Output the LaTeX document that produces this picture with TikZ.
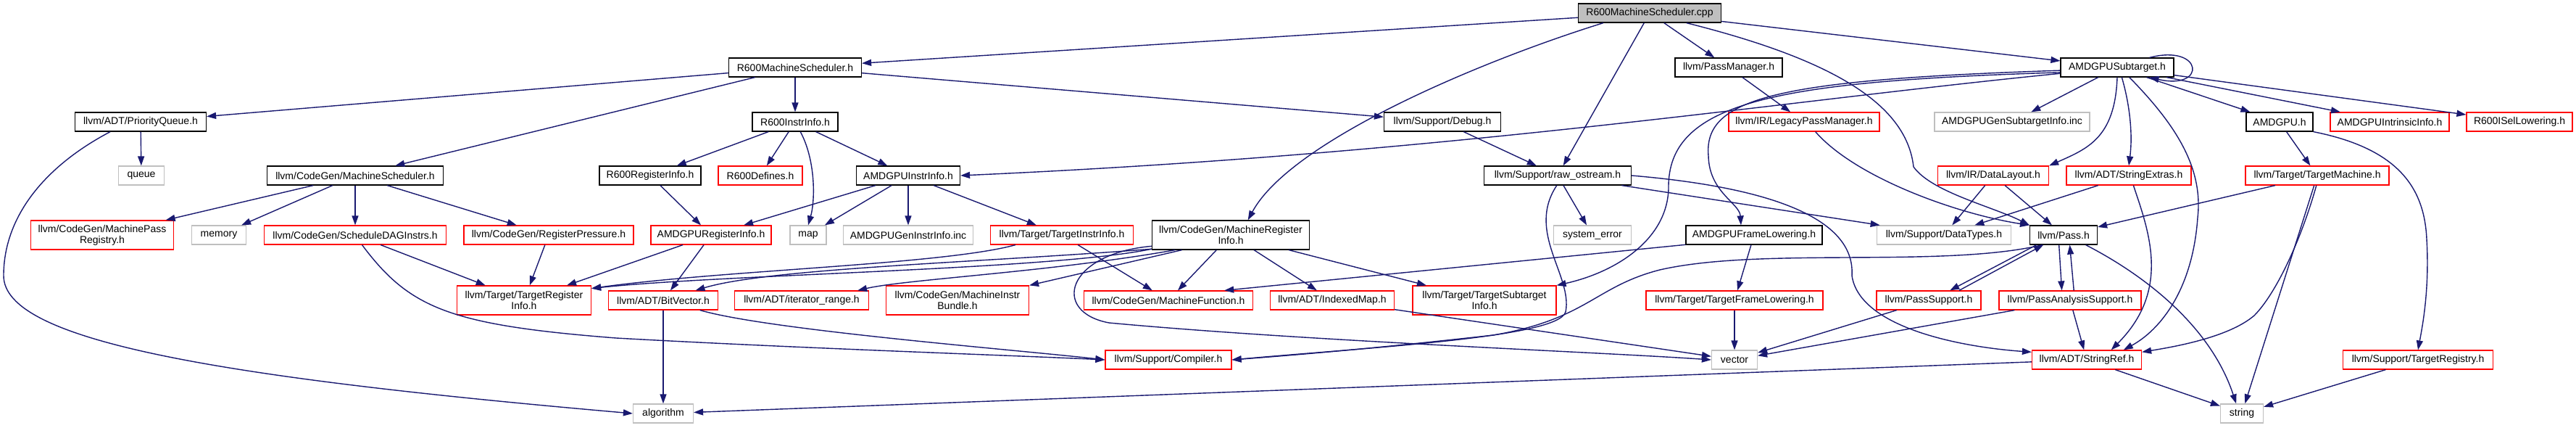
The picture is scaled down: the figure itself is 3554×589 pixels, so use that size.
\documentclass[tikz,border=0pt]{standalone}
\usepackage{fontspec}
\setmainfont{Liberation Sans}
\usepackage{xcolor}
\usepackage{tikz}
\usetikzlibrary{arrows.meta}
\definecolor{edgeblue}{HTML}{191970}
\definecolor{extgray}{HTML}{BFBFBF}
\definecolor{truncred}{HTML}{FF0000}
\tikzset{
  file/.style={draw, fill=white, line width=1.2pt, minimum height=26pt,
               inner xsep=4pt, inner ysep=2pt, align=center,
               font=\fontsize{14}{15}\selectfont},
  docfile/.style={file, draw=black},
  truncfile/.style={file, draw=truncred},
  extfile/.style={file, draw=extgray},
  dep/.style={draw=edgeblue, line width=1.4pt, -{Triangle[length=13pt,width=9pt]}}
}

\begin{document}
\begin{tikzpicture}[x=1pt, y=-1pt]
    \useasboundingbox (0,0) rectangle (3554,589);

    \node[docfile, fill=extgray, minimum width=197pt] (cpp) at (2276,18) {R600MachineScheduler.cpp};

    \node[docfile, minimum width=183pt] (r6ms) at (1097,93) {R600MachineScheduler.h};
    \node[docfile, minimum width=148pt] (passmgr) at (2385,93) {llvm/PassManager.h};
    \node[docfile, minimum width=156pt] (subtarget) at (2921,93) {AMDGPUSubtarget.h};

    \node[docfile, minimum width=181pt] (pq) at (194,168) {llvm/ADT/PriorityQueue.h};
    \node[docfile, minimum width=118pt] (r6ii) at (1097,168) {R600InstrInfo.h};
    \node[docfile, minimum width=161pt] (debug) at (1990,168) {llvm/Support/Debug.h};
    \node[truncfile, minimum width=208pt] (legacy) at (2489,168) {llvm/IR/LegacyPassManager.h};
    \node[extfile, minimum width=214pt] (gensub) at (2776,168) {AMDGPUGenSubtargetInfo.inc};
    \node[docfile, minimum width=92pt] (amdgpu) at (3145,168) {AMDGPU.h};
    \node[truncfile, minimum width=164pt] (intrin) at (3297,168) {AMDGPUIntrinsicInfo.h};
    \node[truncfile, minimum width=146pt] (isel) at (3476,168) {R600ISelLowering.h};

    \node[extfile, minimum width=63pt] (queue) at (195,242) {queue};
    \node[docfile, minimum width=243pt] (msched) at (490,242) {llvm/CodeGen/MachineScheduler.h};
    \node[docfile, minimum width=140pt] (r6ri) at (897,242) {R600RegisterInfo.h};
    \node[truncfile, minimum width=116pt] (r6def) at (1049,242) {R600Defines.h};
    \node[docfile, minimum width=143pt] (agii) at (1253,242) {AMDGPUInstrInfo.h};
    \node[docfile, minimum width=203pt] (rawos) at (2149,242) {llvm/Support/raw\_ostream.h};
    \node[truncfile, minimum width=153pt] (datalayout) at (2750,242) {llvm/IR/DataLayout.h};
    \node[truncfile, minimum width=172pt] (strext) at (2937,242) {llvm/ADT/StringExtras.h};
    \node[truncfile, minimum width=198pt] (tmachine) at (3197,242) {llvm/Target/TargetMachine.h};

    \node[truncfile, minimum width=197pt, minimum height=40pt] (mpreg) at (141,324) {llvm/CodeGen/MachinePass\\Registry.h};
    \node[extfile, minimum width=75pt] (memory) at (302,324) {memory};
    \node[truncfile, minimum width=251pt] (sdag) at (490,324) {llvm/CodeGen/ScheduleDAGInstrs.h};
    \node[truncfile, minimum width=234pt] (regpress) at (757,324) {llvm/CodeGen/RegisterPressure.h};
    \node[truncfile, minimum width=166pt] (agri) at (981,324) {AMDGPURegisterInfo.h};
    \node[extfile, minimum width=50pt] (map) at (1115,324) {map};
    \node[extfile, minimum width=179pt] (genii) at (1253,324) {AMDGPUGenInstrInfo.inc};
    \node[truncfile, minimum width=197pt] (tii) at (1465,324) {llvm/Target/TargetInstrInfo.h};
    \node[docfile, minimum width=217pt, minimum height=40pt] (mri) at (1698,324) {llvm/CodeGen/MachineRegister\\Info.h};
    \node[extfile, minimum width=107pt] (syserr) at (2197,324) {system\_error};
    \node[docfile, minimum width=188pt] (framelow) at (2420,324) {AMDGPUFrameLowering.h};
    \node[extfile, minimum width=185pt] (datatypes) at (2682,324) {llvm/Support/DataTypes.h};
    \node[docfile, minimum width=93pt] (pass) at (2847,324) {llvm/Pass.h};

    \node[truncfile, minimum width=185pt, minimum height=40pt] (tri) at (723,414) {llvm/Target/TargetRegister\\Info.h};
    \node[truncfile, minimum width=151pt] (bitvec) at (915,414) {llvm/ADT/BitVector.h};
    \node[truncfile, minimum width=185pt] (iterrange) at (1106,414) {llvm/ADT/iterator\_range.h};
    \node[truncfile, minimum width=197pt, minimum height=40pt] (bundle) at (1321,414) {llvm/CodeGen/MachineInstr\\Bundle.h};
    \node[truncfile, minimum width=233pt] (mfunc) at (1612,414) {llvm/CodeGen/MachineFunction.h};
    \node[truncfile, minimum width=171pt] (indexmap) at (1838,414) {llvm/ADT/IndexedMap.h};
    \node[truncfile, minimum width=198pt, minimum height=40pt] (tsi) at (2048,414) {llvm/Target/TargetSubtarget\\Info.h};
    \node[truncfile, minimum width=244pt] (tfl) at (2393,414) {llvm/Target/TargetFrameLowering.h};
    \node[truncfile, minimum width=144pt] (passsup) at (2661,414) {llvm/PassSupport.h};
    \node[truncfile, minimum width=196pt] (pas) at (2856,414) {llvm/PassAnalysisSupport.h};

    \node[truncfile, minimum width=174pt] (compiler) at (1612,496) {llvm/Support/Compiler.h};
    \node[extfile, minimum width=63pt] (vector) at (2393,496) {vector};
    \node[truncfile, minimum width=151pt] (stringref) at (2879,496) {llvm/ADT/StringRef.h};
    \node[truncfile, minimum width=207pt] (treg) at (3336,496) {llvm/Support/TargetRegistry.h};

    \node[extfile, minimum width=83pt] (algorithm) at (915,570) {algorithm};
    \node[extfile, minimum width=59pt] (string) at (3093,570) {string};

    \draw[dep] (cpp) -- (r6ms);
    \draw[dep] (cpp) -- (rawos);
    \draw[dep] (cpp) -- (passmgr);
    \draw[dep] (cpp) -- (subtarget);
    \draw[dep] (cpp.192) .. controls (2040,85) and (1780,195) .. (mri.41);
    \draw[dep] (cpp.345) .. controls (2520,80) and (2630,140) .. (2640,230)
        .. controls (2665,265) and (2750,285) .. (pass.north west);

    \draw[dep] (r6ms) -- (pq);
    \draw[dep] (r6ms) -- (msched);
    \draw[dep] (r6ms) -- (r6ii);
    \draw[dep] (r6ms) -- (debug);

    \draw[dep] (pq) -- (queue);
    \draw[dep] (pq.198) .. controls (60,230) and (5,300) .. (5,380)
        .. controls (5,470) and (300,520) .. (algorithm.west);

    \draw[dep] (msched) -- (mpreg);
    \draw[dep] (msched) -- (memory);
    \draw[dep] (msched) -- (sdag);
    \draw[dep] (msched) -- (regpress);

    \draw[dep] (sdag) -- (tri);
    \draw[dep] (sdag.305) .. controls (565,425) and (620,448) .. (850,466)
        .. controls (1100,480) and (1400,490) .. (compiler.west);
    \draw[dep] (regpress) -- (tri);

    \draw[dep] (r6ii) -- (r6ri);
    \draw[dep] (r6ii) -- (r6def);
    \draw[dep] (r6ii.298) .. controls (1125,220) and (1125,275) .. (map.north);
    \draw[dep] (r6ii) -- (agii);
    \draw[dep] (r6ri) -- (agri);

    \draw[dep] (agii) -- (agri);
    \draw[dep] (agii) -- (map);
    \draw[dep] (agii) -- (genii);
    \draw[dep] (agii) -- (tii);

    \draw[dep] (agri) -- (tri);
    \draw[dep] (agri) -- (bitvec);
    \draw[dep] (tii.192) .. controls (1300,365) and (1000,372) .. (tri.10);
    \draw[dep] (tii) -- (mfunc);

    \draw[dep] (mri.190) .. controls (1450,372) and (1000,378) .. (tri.10);
    \draw[dep] (mri.190) .. controls (1350,362) and (1060,370) .. (bitvec.17);
    \draw[dep] (mri.195) .. controls (1450,375) and (1250,385) .. (iterrange.10);
    \draw[dep] (mri.197) -- (bundle.north east);
    \draw[dep] (mri) -- (mfunc);
    \draw[dep] (mri) -- (indexmap);
    \draw[dep] (mri) -- (tsi);
    \draw[dep] (mri.188) .. controls (1470,350) and (1450,430) .. (1530,445)
        .. controls (1800,470) and (2200,485) .. (vector.west);

    \draw[dep] (bitvec) -- (algorithm);
    \draw[dep] (bitvec.345) .. controls (1060,455) and (1400,482) .. (compiler.west);
    \draw[dep] (indexmap) -- (vector);
    \draw[dep] (tfl) -- (vector);

    \draw[dep] (framelow) -- (tfl);
    \draw[dep] (framelow.188) -- (mfunc.10);

    \draw[dep] (debug) -- (rawos);
    \draw[dep] (rawos) -- (syserr);
    \draw[dep] (rawos) -- (datatypes);
    \draw[dep] (rawos.265) .. controls (2105,320) and (2170,380) .. (2160,430)
        .. controls (2150,465) and (1900,478) .. (compiler.east);
    \draw[dep] (rawos.east) .. controls (2440,258) and (2560,300) .. (2555,380)
        .. controls (2565,450) and (2700,478) .. (stringref.172);

    \draw[dep] (passmgr) -- (legacy);
    \draw[dep] (legacy.319) .. controls (2560,245) and (2700,295) .. (pass.north west);

    \draw[dep] (subtarget.17) .. controls (3040,60) and (3045,125) .. (subtarget.343);
    \draw[dep] (subtarget.186) .. controls (2450,140) and (2000,212) .. (agii.east);
    \draw[dep] (subtarget.185) .. controls (2450,112) and (2300,140) .. (2302,260)
        .. controls (2300,330) and (2230,375) .. (tsi.north east);
    \draw[dep] (subtarget.183) .. controls (2450,110) and (2350,135) .. (2357,215)
        .. controls (2358,265) and (2400,280) .. (framelow.143);
    \draw[dep] (subtarget) -- (gensub);
    \draw[dep] (subtarget.south) .. controls (2918,190) and (2880,205) .. (datalayout.10);
    \draw[dep] (subtarget.295) .. controls (2940,150) and (2942,190) .. (strext.north);
    \draw[dep] (subtarget.321) .. controls (3000,170) and (3040,230) .. (3032,300)
        .. controls (3025,400) and (2980,455) .. (stringref.15);
    \draw[dep] (subtarget) -- (amdgpu);
    \draw[dep] (subtarget) -- (intrin);
    \draw[dep] (subtarget) -- (isel);

    \draw[dep] (amdgpu) -- (tmachine);
    \draw[dep] (amdgpu.south east) .. controls (3310,205) and (3345,260) .. (3348,330)
        .. controls (3352,400) and (3342,450) .. (treg.north);

    \draw[dep] (tmachine) -- (pass);
    \draw[dep] (tmachine.265) .. controls (3175,330) and (3140,405) .. (3110,435)
        .. controls (3075,465) and (3000,478) .. (stringref.8);
    \draw[dep] (tmachine) -- (string);

    \draw[dep] (datalayout) -- (datatypes);
    \draw[dep] (datalayout) -- (pass);
    \draw[dep] (strext) -- (datatypes);
    \draw[dep] (strext.295) .. controls (2965,320) and (2995,400) .. (stringref.22);

    \draw[dep] (pass.200) -- (passsup.25);
    \draw[dep] (passsup.18) -- (pass.206);
    \draw[dep] (pass.245) -- (pas.130);
    \draw[dep] (pas.69) -- (pass.302);
    \draw[dep] (pass.336) .. controls (2960,380) and (3050,450) .. (string.120);
    \draw[dep] (pass.205) .. controls (2680,370) and (2430,340) .. (2290,372)
        .. controls (2200,395) and (2190,440) .. (2060,462)
        .. controls (1900,480) and (1780,490) .. (compiler.east);

    \draw[dep] (passsup) -- (vector);
    \draw[dep] (pas) -- (vector);
    \draw[dep] (pas) -- (stringref);

    \draw[dep] (stringref) -- (algorithm);
    \draw[dep] (stringref) -- (string);
    \draw[dep] (treg) -- (string);
\end{tikzpicture}
\end{document}
